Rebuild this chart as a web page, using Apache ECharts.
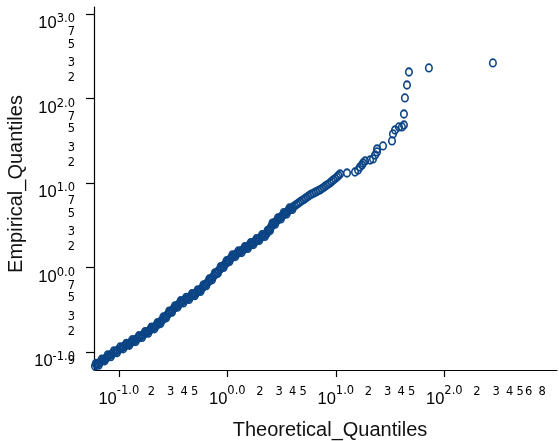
<!DOCTYPE html>
<html>
<head>
<meta charset="utf-8">
<script src="https://cdn.jsdelivr.net/npm/echarts@6/dist/echarts.min.js"></script>
<style>html,body{margin:0;padding:0;background:#fff}#c{width:559px;height:441px}</style>
</head>
<body>
<div id="c"></div>
<script>
// log10 of theoretical quantiles (x) and empirical quantiles (y)
const theoreticalExp = [
 -1.220,-1.205,-1.192,-1.178,-1.165,-1.150,-1.137,-1.122,-1.108,-1.095,-1.081,
 -1.067,-1.052,-1.038,-1.024,-1.010,-0.995,-0.981,-0.968,
 -0.953,-0.938,-0.925,-0.910,-0.896,-0.882,-0.867,-0.852,-0.838,-0.822,-0.808,
 -0.793,-0.779,-0.765,-0.751,-0.737,-0.722,-0.708,-0.694,-0.679,-0.664,-0.650,
 -0.636,-0.622,-0.609,-0.596,-0.583,-0.569,-0.556,-0.542,-0.529,
 -0.516,-0.503,-0.490,-0.477,-0.464,-0.450,-0.437,
 -0.424,-0.411,-0.398,-0.385,-0.372,-0.358,-0.345,
 -0.332,-0.319,-0.306,-0.293,-0.280,-0.266,-0.253,
 -0.240,-0.227,-0.213,-0.200,-0.187,-0.173,-0.160,
 -0.147,-0.134,-0.121,-0.107,-0.094,-0.080,-0.067,
 -0.054,-0.040,-0.027,-0.013,0.000,0.013,0.027,0.040,0.053,
 0.067,0.081,0.095,0.110,0.124,0.139,0.153,0.168,0.182,
 0.195,0.208,0.221,0.234,0.247,0.261,0.274,
 0.287,0.300,0.313,0.327,0.340,0.353,0.366,
 0.377,0.388,0.399,0.410,0.421,
 0.434,0.447,0.460,0.473,0.487,0.500,0.513,
 0.527,0.540,0.553,0.566,0.580,0.593,0.606,
 0.622,0.638,0.654,0.670,
 0.688,0.706,0.724,0.743,0.762,
 0.780,0.799,0.817,0.836,0.854,
 0.872,0.890,0.909,0.928,0.946,
 0.962,0.978,0.995,1.011,
 1.025,1.039,
 1.103,1.177,1.205,1.223,1.242,1.251,1.270,1.316,1.343,1.362,1.380,1.380,1.435,
 1.518,1.527,1.546,1.582,1.610,1.628,1.628,1.637,1.656,1.674,1.858,2.448,
 // further observations inside the dense band
 -1.212,-1.185,-1.158,-1.130,-1.102,-1.074,
 -1.045,-1.017,-0.988,-0.960,
 -0.931,-0.903,-0.874,-0.845,-0.815,
 -0.786,-0.758,-0.729,-0.701,-0.672,-0.643,
 -0.616,-0.590,-0.563,-0.536,
 -0.510,-0.484,-0.457,-0.430,
 -0.405,-0.379,-0.352,
 -0.326,-0.300,-0.273,-0.247,
 -0.220,-0.194,-0.167,
 -0.141,-0.114,-0.087,-0.061,
 -0.034,-0.007,0.020,0.047,
 0.074,0.103,0.132,0.161,0.189,
 0.215,0.241,0.268,
 0.294,0.320,0.347,
 0.372,0.394,0.416,
 0.441,0.467,0.494,
 0.520,0.547,0.573,0.600
];
const empiricalExp = [
 -1.168,-1.152,-1.142,-1.128,-1.118,-1.101,-1.092,-1.076,-1.066,-1.050,-1.040,
 -1.030,-1.016,-1.006,-0.992,-0.983,-0.968,-0.960,-0.948,
 -0.936,-0.927,-0.915,-0.906,-0.893,-0.884,-0.870,-0.862,-0.849,-0.838,-0.826,
 -0.812,-0.803,-0.787,-0.777,-0.762,-0.752,-0.736,-0.726,-0.711,-0.698,-0.684,
 -0.668,-0.652,-0.633,-0.619,-0.600,-0.584,-0.565,-0.549,-0.530,
 -0.515,-0.502,-0.485,-0.472,-0.455,-0.441,-0.423,
 -0.413,-0.404,-0.393,-0.384,-0.372,-0.364,-0.352,
 -0.340,-0.330,-0.317,-0.308,-0.294,-0.284,-0.270,
 -0.256,-0.238,-0.222,-0.202,-0.187,-0.168,-0.152,
 -0.133,-0.116,-0.095,-0.078,-0.057,-0.040,-0.021,
 -0.004,0.012,0.030,0.046,0.065,0.080,0.100,0.116,0.133,
 0.143,0.156,0.166,0.180,0.190,0.204,0.214,0.228,0.239,
 0.252,0.262,0.275,0.285,0.298,0.310,0.322,
 0.333,0.346,0.356,0.370,0.380,0.395,0.405,
 0.427,0.447,0.470,0.490,0.511,
 0.525,0.541,0.555,0.571,0.586,0.603,0.618,
 0.633,0.645,0.660,0.672,0.688,0.699,0.714,
 0.728,0.743,0.758,0.773,
 0.790,0.804,0.822,0.838,0.856,
 0.868,0.880,0.893,0.905,0.916,
 0.932,0.948,0.966,0.982,0.998,
 1.017,1.034,1.050,1.069,
 1.086,1.104,
 1.116,1.128,1.151,1.187,1.211,1.234,1.258,1.270,1.282,1.329,1.365,1.400,1.436,
 1.495,1.578,1.625,1.661,1.661,1.684,1.814,2.004,2.157,2.311,2.359,2.418,
 // further observations inside the dense band
 -1.138,-1.157,-1.088,-1.106,-1.036,-1.057,
 -0.989,-1.010,-0.942,-0.964,
 -0.899,-0.922,-0.855,-0.878,-0.810,
 -0.830,-0.760,-0.779,-0.709,-0.727,-0.654,
 -0.665,-0.588,-0.597,-0.518,
 -0.531,-0.457,-0.470,-0.396,
 -0.421,-0.356,-0.380,
 -0.313,-0.335,-0.267,-0.285,
 -0.208,-0.217,-0.138,
 -0.147,-0.065,-0.071,0.009,
 -0.001,0.078,0.068,0.147,
 0.128,0.195,0.175,0.243,0.224,
 0.291,0.270,0.338,
 0.318,0.385,0.366,
 0.438,0.437,0.523,
 0.511,0.585,0.573,
 0.648,0.631,0.702,0.685
];
// tick labels
const xMajorExp = [-1, 0, 1, 2];
const xMinorMantissa = [[2,3,4,5],[2,3,4,5],[2,3,4,5],[2,3,4,5,6,8]];
const yMajorExp = [-1, 0, 1, 2, 3];
const yMinorDecades = [2, 1, 0, -1, -2];
const yMinorMantissa = [[7,5,3,2],[7,5,3,2],[7,5,3,2],[7,5,3,2],[9]];
const xTitle = 'Theoretical_Quantiles';
const yTitle = 'Empirical_Quantiles';

// majors first, then minors; keeps the first and last labels of the list apart
const xLabelVals = xMajorExp.slice();
xMajorExp.forEach((e, i) => xMinorMantissa[i].forEach(m => xLabelVals.push(e + Math.log10(m))));
const yLabelVals = yMajorExp.slice();
yMinorDecades.forEach((e, i) => yMinorMantissa[i].forEach(m => yLabelVals.push(e + Math.log10(m))));

function fmt(v) {
  const r = Math.round(v);
  if (Math.abs(v - r) < 1e-6) return '{a|10}{b|' + r.toFixed(1) + '}';
  const mant = Math.round(Math.pow(10, v - Math.floor(v)));
  return '{m|' + mant + '}';
}
const FONT = 'Liberation Sans';
const SUP = 'DejaVu Sans';
const xRich = {
  a: {fontFamily: FONT, fontSize: 16.5, lineHeight: 16, color: '#000', padding: [8,0,0,0]},
  b: {fontFamily: SUP, fontSize: 11.5, lineHeight: 10, color: '#000', padding: [3,0,11,0]},
  m: {fontFamily: SUP, fontSize: 11.5, lineHeight: 10, color: '#000', padding: [7,0,7,0]}
};
const yRich = {
  a: {fontFamily: FONT, fontSize: 16.5, lineHeight: 16, color: '#000', padding: [20,0,0,0]},
  b: {fontFamily: SUP, fontSize: 11.5, lineHeight: 10, color: '#000', padding: [14,0,3,0]},
  m: {fontFamily: SUP, fontSize: 11.5, lineHeight: 10, color: '#000', padding: [11,0,0,0]}
};

const points = theoreticalExp.map((x, i) => [x, empiricalExp[i]]);

const chart = echarts.init(document.getElementById('c'), null, {renderer: 'canvas'});
chart.setOption({
  animation: false,
  backgroundColor: '#fff',
  grid: {left: 94, top: 7, right: 2, bottom: 71, containLabel: false, outerBoundsMode: 'none'},
  xAxis: {
    type: 'value', min: -1.229, max: 3.039,
    splitLine: {show: false},
    axisLine: {show: true, onZero: false, lineStyle: {color: '#000', width: 1.2}},
    axisTick: {show: true, length: 7, lineStyle: {color: '#000', width: 1.2}, customValues: xMajorExp},
    axisLabel: {customValues: xLabelVals, formatter: fmt, rich: xRich, margin: 17,
      hideOverlap: false, showMinLabel: true, showMaxLabel: true},
    name: xTitle, nameLocation: 'middle', nameGap: 50, nameMoveOverlap: false,
    nameTextStyle: {fontFamily: FONT, fontSize: 20, color: '#111', padding: [0,0,0,9]}
  },
  yAxis: {
    type: 'value', min: -1.215, max: 3.080,
    splitLine: {show: false},
    axisLine: {show: true, onZero: false, lineStyle: {color: '#000', width: 1.2}},
    axisTick: {show: true, length: 8, lineStyle: {color: '#000', width: 1.2}, customValues: yMajorExp},
    axisLabel: {customValues: yLabelVals, formatter: fmt, rich: yRich, margin: 19,
      hideOverlap: false, showMinLabel: true, showMaxLabel: true},
    name: yTitle, nameLocation: 'middle', nameGap: 68, nameMoveOverlap: false,
    nameTextStyle: {fontFamily: FONT, fontSize: 20, color: '#111', padding: [0,0,0,9]}
  },
  series: [{
    type: 'scatter',
    data: points,
    symbol: 'circle',
    symbolSize: [6.5, 7.5],
    itemStyle: {color: 'rgba(255,255,255,0)', borderColor: '#0c4585', borderWidth: 1.7, opacity: 1},
    emphasis: {disabled: true}
  }]
});
</script>
</body>
</html>
